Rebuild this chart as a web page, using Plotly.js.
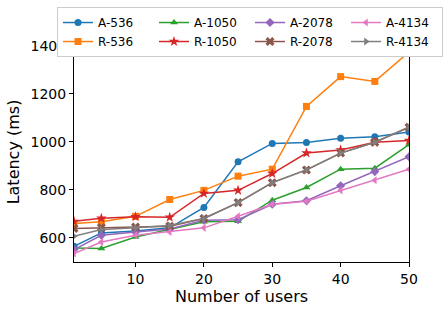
<!DOCTYPE html>
<html>
<head>
<meta charset="utf-8">
<script src="https://cdn.plot.ly/plotly-3.0.1.min.js"></script>
<style>html,body{margin:0;padding:0;background:#fff}#chart{width:445px;height:310px}</style>
</head>
<body>
<div id="chart"></div>
<script>
var users = [1, 5, 10, 15, 20, 25, 30, 35, 40, 45, 50];
var a536  = [565, 621, 629, 642, 727, 917, 993, 997, 1015, 1021, 1041];
var r536  = [660, 667, 690, 760, 798, 857, 886, 1147, 1271, 1251, 1373];
var a1050 = [558, 556, 604, 635, 667, 669, 757, 810, 886, 890, 988];
var r1050 = [669, 682, 688, 686, 785, 798, 868, 953, 966, 998, 1005];
var a2078 = [552, 611, 625, 637, 674, 676, 740, 755, 817, 876, 938];
var r2078 = [639, 643, 646, 649, 681, 747, 830, 883, 953, 998, 1060];
var a4134 = [535, 583, 611, 625, 642, 690, 740, 753, 798, 840, 886];
var r4134 = [607, 635, 642, 652, 681, 747, 830, 883, 953, 998, 1062];

var names   = ['A-536','R-536','A-1050','R-1050','A-2078','R-2078','A-4134','R-4134'];
var series  = [a536, r536, a1050, r1050, a2078, r2078, a4134, r4134];
var colors  = ['#1f77b4','#ff7f0e','#2ca02c','#d62728','#9467bd','#8c564b','#e377c2','#7f7f7f'];
var symbols = ['circle','square','triangle-up','star','diamond','x','triangle-left','triangle-right'];
var ranks   = [1, 5, 2, 6, 3, 7, 4, 8];

var traces = series.map(function (s, i) {
  return {
    x: users, y: s, name: names[i], type: 'scatter', mode: 'lines+markers',
    line: {color: colors[i], width: 1.5},
    marker: {color: colors[i], symbol: symbols[i], size: (symbols[i]==='star'||symbols[i]==='x') ? 8 : 7},
    legendrank: ranks[i]
  };
});

var layout = {
  width: 445, height: 310,
  margin: {l: 74, r: 36, t: 42, b: 48, autoexpand: false},
  paper_bgcolor: '#fff', plot_bgcolor: '#fff',
  font: {family: 'DejaVu Sans', color: '#000'},
  showlegend: true,
  xaxis: {
    range: [1, 50], tickvals: [10, 20, 30, 40, 50], ticks: 'outside', ticklen: 4,
    tickcolor: '#000', showline: true, linecolor: '#000', linewidth: 1, mirror: true,
    showgrid: false, zeroline: false, tickfont: {size: 14},
    title: {text: 'Number of users', font: {size: 16}, standoff: 3}
  },
  yaxis: {
    range: [500, 1415], tickvals: [600, 800, 1000, 1200, 1400], ticks: 'outside', ticklen: 4,
    tickcolor: '#000', showline: true, linecolor: '#000', linewidth: 1, mirror: true,
    showgrid: false, zeroline: false, tickfont: {size: 14},
    title: {text: 'Latency (ms)', font: {size: 16}, standoff: 6}
  },
  legend: {
    orientation: 'h', x: -0.0507, xanchor: 'left', y: 1.159, yanchor: 'top',
    bgcolor: '#fff', bordercolor: '#cccccc', borderwidth: 1,
    font: {size: 12}, entrywidth: 51, entrywidthmode: 'pixels', tracegroupgap: 0
  },
  shapes: [{
    type: 'rect', xref: 'paper', yref: 'paper', layer: 'above',
    x0: -0.042, x1: 1.0896, y0: 0.959, y1: 1.145,
    fillcolor: '#aaa', line: {width: 0}
  }]
};

Plotly.newPlot('chart', traces, layout, {displayModeBar: false, staticPlot: true});
</script>
</body>
</html>
